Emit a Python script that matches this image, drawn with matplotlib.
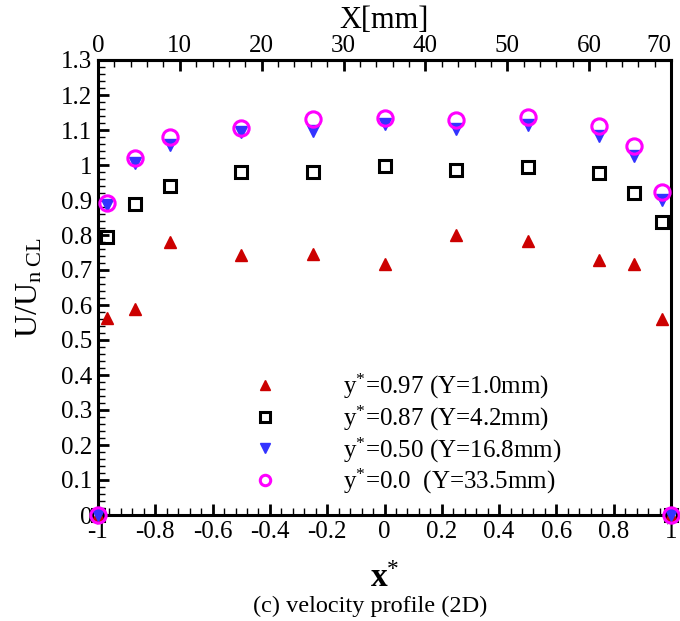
import matplotlib
matplotlib.use("Agg")
import matplotlib.pyplot as plt
from matplotlib.ticker import MultipleLocator, FuncFormatter

plt.rcParams['font.family'] = ['Liberation Serif', 'DejaVu Serif']
plt.rcParams['mathtext.fontset'] = 'custom'
plt.rcParams['mathtext.rm'] = 'Liberation Serif'
plt.rcParams['mathtext.it'] = 'Liberation Serif:italic'
plt.rcParams['mathtext.bf'] = 'Liberation Serif:bold'
plt.rcParams['axes.unicode_minus'] = False

x_star = [-1, -0.97, -0.87, -0.75, -0.5, -0.25, 0, 0.25, 0.5, 0.75, 0.87, 0.97, 1]
u_y097 = [0, 0.563, 0.59, 0.78, 0.743, 0.745, 0.717, 0.80, 0.783, 0.729, 0.717, 0.56, 0]
u_y087 = [0, 0.794, 0.889, 0.94, 0.98, 0.98, 0.997, 0.986, 0.994, 0.977, 0.92, 0.837, 0]
u_y050 = [0, 0.886, 1.006, 1.057, 1.094, 1.097, 1.117, 1.103, 1.114, 1.083, 1.026, 0.90, 0]
u_y000 = [0, 0.891, 1.02, 1.08, 1.106, 1.131, 1.134, 1.129, 1.137, 1.111, 1.054, 0.923, 0]

labels = [r'$\mathregular{y^{*}}$=0.97 (Y=1.0mm)',
          r'$\mathregular{y^{*}}$=0.87 (Y=4.2mm)',
          r'$\mathregular{y^{*}}$=0.50 (Y=16.8mm)',
          r'$\mathregular{y^{*}}$=0.0  (Y=33.5mm)']

fig = plt.figure(figsize=(6.8, 6.21), dpi=100)
ax = fig.add_axes([98/680, (621-515)/621, 573/680, 455/621])

h2, = ax.plot(x_star, u_y087, ls='none', marker='s', ms=8.5, mfc='none', mec='black', mew=2.2, clip_on=False, zorder=3)
h1, = ax.plot(x_star, u_y097, ls='none', marker='^', ms=9, color='#cc0000', clip_on=False, zorder=3)
h3, = ax.plot(x_star, u_y050, ls='none', marker='v', ms=9, color='#3333ff', clip_on=False, zorder=4)
h4, = ax.plot(x_star, u_y000, ls='none', marker='o', ms=11, mfc='none', mec='#ff00ff', mew=2.2, clip_on=False, zorder=5)

ax.set_xlim(-1, 1)
ax.set_ylim(0, 1.3)
ax.xaxis.set_major_locator(MultipleLocator(0.2))
ax.xaxis.set_minor_locator(MultipleLocator(0.04))
ax.yaxis.set_major_locator(MultipleLocator(0.1))
ax.yaxis.set_minor_locator(MultipleLocator(0.02))
fmt = FuncFormatter(lambda v, p: ('%g' % round(v, 2)))
ax.xaxis.set_major_formatter(fmt)
ax.yaxis.set_major_formatter(fmt)

for s in ax.spines.values():
    s.set_linewidth(2.2)
ax.tick_params(which='both', direction='in', top=False, right=False, labelsize=18, pad=4)
ax.tick_params(which='major', length=8, width=2)
ax.tick_params(which='minor', length=5, width=1)

sec = ax.secondary_xaxis('top', functions=(lambda x: 35*(x+1), lambda X: X/35 - 1))
sec.xaxis.set_major_locator(MultipleLocator(10))
sec.xaxis.set_minor_locator(MultipleLocator(2))
sec.tick_params(which='both', direction='in', labelsize=18, pad=2)
sec.tick_params(which='major', length=8, width=2)
sec.tick_params(which='minor', length=5, width=1)
sec.spines['top'].set_linewidth(2.2)
sec.set_xlabel('X[mm]', fontsize=22, labelpad=5)

ax.set_xlabel(r'$\mathbf{x}^{*}$', fontsize=24, labelpad=15)
ax.xaxis.label.set_x((379 + 6 - 98) / 573)
ax.set_ylabel(r'U/U$_{\mathregular{n\ CL}}$', fontsize=23, labelpad=12)

fig.canvas.draw()
for t in sec.xaxis.get_majorticklabels():
    if t.get_text() == '70':
        t.set_ha('right')

leg = ax.legend([h1, h2, h3, h4], labels, loc='upper left', bbox_to_anchor=(0.27, 0.314),
                frameon=False, fontsize=18, handletextpad=2.6, labelspacing=0.1,
                handlelength=1.0, borderpad=0, borderaxespad=0)
for lh in leg.legend_handles:
    lh.set_markersize(7.5)

fig.text(370/680, 1 - 606/621, '(c) velocity profile (2D)', ha='center', va='center', fontsize=17.5)

fig.savefig('out.png', dpi=100)
